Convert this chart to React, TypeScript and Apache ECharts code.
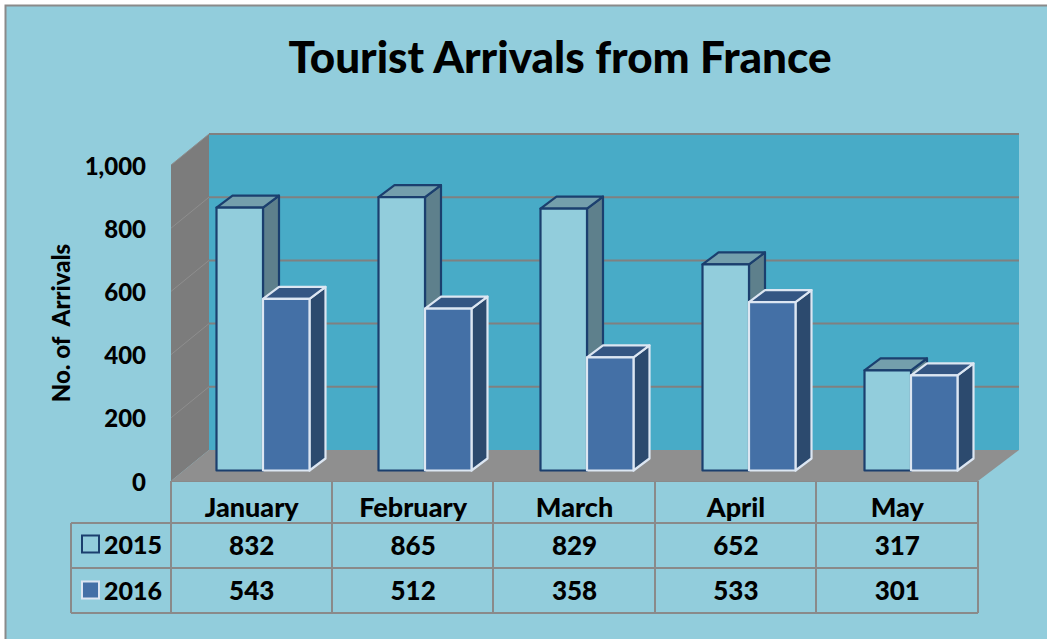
import React, { useEffect, useRef } from "react";
import * as echarts from "echarts";

const titleText = "Tourist Arrivals from France";
const yAxisName = "No. of\u00A0\u00A0Arrivals";
const categories = ["January", "February", "March", "April", "May"];
const seriesNames = ["2015", "2016"];
const values2015 = [832, 865, 829, 652, 317];
const values2016 = [543, 512, 358, 533, 301];
const gridTicks = [200, 400, 600, 800, 1000];

const FONT = "Lato";
const WEIGHT = 900;
const DEPTH_X = 38;
const DEPTH_Y = 31;
const BAR_W = 46.5;
const BOX_X = 16;
const BOX_Y = 12;
const LINE = "#8A8A8A";

const columnEdges = [171, 332, 493, 655, 816, 978];
const rowEdges = [523, 568, 613];
const rowCenters = [544.5, 589.5];

const styles2015 = { face: "#92CDDC", top: "#749FAC", side: "#5E808C", stroke: "#1B3F6E" };
const styles2016 = { face: "#4470A6", top: "#345683", side: "#2C4A6E", stroke: "#DCE6F2" };

const renderWalls = (params: any) => {
  const c = params.coordSys;
  const x0 = c.x, x1 = c.x + c.width, yT = c.y, yB = c.y + c.height;
  return {
    type: "group",
    children: [
      { type: "polygon", shape: { points: [[x0 + DEPTH_X, yT - DEPTH_Y], [x1 + DEPTH_X + 3, yT - DEPTH_Y], [x1 + DEPTH_X + 3, yB - DEPTH_Y], [x0 + DEPTH_X, yB - DEPTH_Y]] }, style: { fill: "#48ABC7" } },
      { type: "polygon", shape: { points: [[x0, yT], [x0 + DEPTH_X, yT - DEPTH_Y], [x0 + DEPTH_X, yB - DEPTH_Y], [x0, yB]] }, style: { fill: "#7C7C7C" } },
      { type: "polygon", shape: { points: [[x0, yB], [x0 + DEPTH_X, yB - DEPTH_Y], [x1 + DEPTH_X + 3, yB - DEPTH_Y], [x1, yB]] }, style: { fill: "#8F8F8F" } },
    ],
  };
};

const renderGrid = (params: any, api: any) => {
  const c = params.coordSys;
  const y = api.coord([0, api.value(0)])[1];
  const x0 = c.x, x1 = c.x + c.width;
  return {
    type: "group",
    children: [
      { type: "line", shape: { x1: x0, y1: y, x2: x0 + DEPTH_X, y2: y - DEPTH_Y }, style: { stroke: "#8E8E8E", lineWidth: 1 } },
      { type: "line", shape: { x1: x0 + DEPTH_X, y1: y - DEPTH_Y, x2: x1 + DEPTH_X + 3, y2: y - DEPTH_Y }, style: { stroke: "#808080", lineWidth: 2 } },
    ],
  };
};

const makeBar = (s: typeof styles2015, leftShift: number) => (_p: any, api: any) => {
  const top = api.coord([api.value(0), api.value(1)]);
  const base = api.coord([api.value(0), 0]);
  const l = top[0] + leftShift, r = l + BAR_W, t = top[1], b = base[1];
  const stroke = { stroke: s.stroke, lineWidth: 2.2, lineJoin: "round" };
  return {
    type: "group",
    children: [
      { type: "polygon", shape: { points: [[r, t], [r + BOX_X, t - BOX_Y], [r + BOX_X, b - BOX_Y], [r, b]] }, style: { fill: s.side, ...stroke } },
      { type: "polygon", shape: { points: [[l, t], [l + BOX_X, t - BOX_Y], [r + BOX_X, t - BOX_Y], [r, t]] }, style: { fill: s.top, ...stroke } },
      { type: "rect", shape: { x: l, y: t, width: BAR_W, height: b - t }, style: { fill: s.face, ...stroke } },
    ],
  };
};

const renderCell = (_p: any, api: any) => {
  const x = api.coord([api.value(0), 0])[0];
  return {
    type: "text",
    style: {
      text: String(api.value(2)),
      x,
      y: rowCenters[api.value(1)],
      align: "center",
      verticalAlign: "middle",
      fill: "#000",
      font: `${WEIGHT} 26px ${FONT}`,
    },
  };
};

const tableLines = () => {
  const out: any[] = [];
  const st = { stroke: LINE, lineWidth: 2 };
  columnEdges.forEach((x) => out.push({ type: "line", shape: { x1: x, y1: 481, x2: x, y2: rowEdges[2] }, style: st }));
  out.push({ type: "line", shape: { x1: 71, y1: rowEdges[0], x2: 71, y2: rowEdges[2] }, style: st });
  rowEdges.forEach((y) => out.push({ type: "line", shape: { x1: 71, y1: y, x2: 978, y2: y }, style: st }));
  out.push({ type: "line", shape: { x1: 171, y1: 481, x2: 978, y2: 481 }, style: st });
  return out;
};

export default function App() {
  const ref = useRef<HTMLDivElement>(null);
  useEffect(() => {
    document.body.style.margin = "0";
    const chart = echarts.init(ref.current!, null, { renderer: "svg" });
    const cellData: number[][] = [];
    [values2015, values2016].forEach((vals, row) => vals.forEach((v, i) => cellData.push([i, row, v])));
    chart.setOption({
      animation: false,
      backgroundColor: "#FFFFFF",
      graphic: {
        elements: [
          { type: "rect", z: -10, shape: { x: 5.5, y: 5.5, width: 1060, height: 660 }, style: { fill: "#92CDDC", stroke: "#8A8A8A", lineWidth: 2 } },
          ...tableLines().map((e) => ({ ...e, z: 0 })),
        ],
      },
      title: {
        text: titleText,
        left: 555,
        top: 29,
        textAlign: "center",
        textStyle: { fontFamily: FONT, fontWeight: WEIGHT, fontSize: 44, color: "#000" },
      },
      legend: {
        orient: "vertical",
        left: 76,
        top: 526.5,
        itemWidth: 17,
        itemHeight: 17,
        itemGap: 21,
        selectedMode: false,
        textStyle: { fontFamily: FONT, fontWeight: WEIGHT, fontSize: 25, color: "#000", padding: [0, 0, 0, 0] },
        data: [
          { name: seriesNames[0], icon: "rect", itemStyle: { color: styles2015.face, borderColor: styles2015.stroke, borderWidth: 2 } },
          { name: seriesNames[1], icon: "rect", itemStyle: { color: styles2016.face, borderColor: styles2016.stroke, borderWidth: 2 } },
        ],
      },
      grid: [
        { left: 171, top: 165, width: 807, height: 316 },
        { left: 182, top: 154.5, width: 810, height: 316 },
      ],
      xAxis: [
        {
          gridIndex: 0,
          type: "category",
          data: categories,
          axisLine: { show: false },
          axisTick: { show: false },
          splitLine: { show: false },
          axisLabel: { margin: 12, fontFamily: FONT, fontWeight: WEIGHT, fontSize: 27, color: "#000" },
        },
        { gridIndex: 1, type: "category", data: categories, show: false },
      ],
      yAxis: [
        {
          gridIndex: 0,
          type: "value",
          min: 0,
          max: 1000,
          interval: 200,
          name: yAxisName,
          nameLocation: "middle",
          nameRotate: 90,
          nameGap: 99,
          nameTextStyle: { fontFamily: FONT, fontWeight: WEIGHT, fontSize: 24, color: "#000" },
          axisLine: { show: false },
          axisTick: { show: false },
          splitLine: { show: false },
          axisLabel: {
            margin: 25,
            fontFamily: FONT,
            fontWeight: WEIGHT,
            fontSize: 24,
            color: "#000",
            formatter: (v: number) => v.toLocaleString("en-US"),
          },
        },
        { gridIndex: 1, type: "value", min: 0, max: 1000, interval: 200, show: false },
      ],
      series: [
        { type: "custom", name: "walls", xAxisIndex: 0, yAxisIndex: 0, z: 1, silent: true, data: [[0, 0]], renderItem: renderWalls },
        { type: "custom", name: "grid", xAxisIndex: 0, yAxisIndex: 0, z: 1, silent: true, encode: { y: 0 }, data: gridTicks.map((v) => [v]), renderItem: renderGrid },
        { type: "custom", name: seriesNames[0], xAxisIndex: 1, yAxisIndex: 1, z: 2, itemStyle: { color: styles2015.face }, data: values2015.map((v, i) => [i, v]), encode: { x: 0, y: 1 }, renderItem: makeBar(styles2015, -BAR_W) },
        { type: "custom", name: seriesNames[1], xAxisIndex: 1, yAxisIndex: 1, z: 3, itemStyle: { color: styles2016.face }, data: values2016.map((v, i) => [i, v]), encode: { x: 0, y: 1 }, renderItem: makeBar(styles2016, 0) },
        { type: "custom", name: "table", xAxisIndex: 0, yAxisIndex: 0, z: 4, silent: true, data: cellData, renderItem: renderCell },
      ],
    });
    return () => chart.dispose();
  }, []);
  return <div ref={ref} style={{ position: "absolute", left: 0, top: 0, width: 1047, height: 639 }} />;
}
